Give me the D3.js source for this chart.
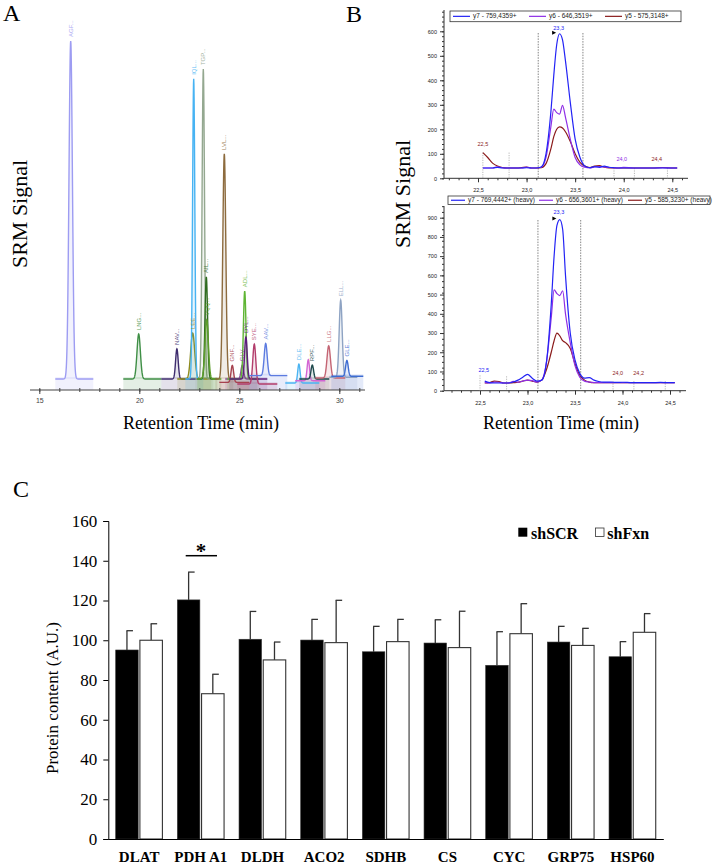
<!DOCTYPE html>
<html><head><meta charset="utf-8">
<script src="https://cdn.jsdelivr.net/npm/d3@7"></script>
<style>body{margin:0;background:#fff}</style>
</head><body><svg id="c" width="715" height="865"></svg>
<script>
// ---------- Panel A data (SRM chromatogram peaks) ----------
const peakNames  = ["AGF","LNG","NAV","LEE","IQL","TGP","AIL","VQQ","LVL","GNF","GLV","ADL","DYL","SYE","AAV","DLE","","RPF","LLG","ELL","GLE"];
const peakRT     = [16.57,19.97,21.88,22.67,22.72,23.20,23.35,23.37,24.25,24.65,25.15,25.27,25.33,25.75,26.32,27.98,28.45,28.65,29.47,30.07,30.38];
const peakHeight = [100,13.3,8.9,13.6,88.8,91.7,30.2,17.5,66.6,5,4.1,26,12.4,11.8,9.5,5.6,6.2,4.1,9.5,22.8,4.7];
const peakSigma  = [0.085,0.085,0.065,0.1,0.055,0.06,0.065,0.085,0.075,0.065,0.065,0.065,0.065,0.075,0.075,0.06,0.06,0.065,0.085,0.075,0.065];
const peakStart  = [15.8,19.2,21.1,21.9,22.3,22.8,22.9,22.9,23.8,24.0,24.3,24.4,24.5,24.9,25.5,27.3,27.8,28.0,28.8,29.5,29.6];
const peakEnd    = [17.7,21.1,22.9,23.6,23.2,23.7,23.9,24.1,24.7,25.5,25.9,26.0,26.4,26.9,27.4,29.0,29.3,29.5,30.3,30.9,31.2];
const peakBase   = [0,0,0,0,0,0,0,0,0,-1,0,0,0,-1.5,1,-1.2,-0.5,0,0.3,0.5,0.8];
const peakColor  = ["#9d9cf2","#3f8f46","#3e2c6e","#8e8a1c","#47b3f3","#94a890","#2e6b1f","#5e9e2c","#8d6b3e","#a6424f","#8a4c98","#5fb534","#5c1d7c","#b33d6c","#5c7be0","#4bb4f2","#d365d3","#1e4a4c","#c46574","#8ea3c3","#3d6cd2"];
const aTickLabels = [15,20,25,30];

// ---------- Panel B data (transitions) ----------
const bRT = [22.55,22.60,22.65,22.70,22.75,22.80,22.85,22.90,22.95,23.00,23.05,23.10,23.15,23.20,23.25,23.28,23.31,23.34,23.37,23.40,23.45,23.50,23.55,23.60,23.65,23.70,23.75,23.80,23.85,23.90,23.95,24.00,24.10,24.20,24.30,24.40,24.50,24.55];
const bTopY7 = [42,42,42,45,42,42,42,42,42,43,42,42,46,100,270,420,545,590,565,480,310,160,85,50,43,48,45,50,45,43,42,42,42,42,42,42,42,42];
const bTopY6 = [42,42,42,47,43,42,42,42,42,46,42,42,45,85,210,282,268,262,298,250,160,85,55,45,42,46,48,47,44,43,42,45,42,42,42,43,42,42];
const bTopY5 = [105,85,62,50,44,42,42,42,44,46,42,42,43,60,120,170,200,210,205,190,150,100,65,50,44,50,52,45,42,42,42,42,42,42,42,44,42,42];
const bBotY7 = [50,42,40,40,40,40,45,55,70,85,65,50,55,150,450,700,860,890,840,600,300,160,90,65,68,55,48,45,45,44,43,44,42,42,42,43,42,42];
const bBotY6 = [42,40,45,44,40,40,48,45,50,55,52,45,55,150,380,525,505,495,520,400,250,130,70,50,45,42,42,42,42,42,42,42,42,42,42,42,42,42];
const bBotY5 = [40,42,50,48,40,40,42,44,50,55,50,45,55,110,200,260,300,285,260,250,220,140,80,55,45,42,42,42,42,42,42,42,42,42,42,42,42,42];
const bTopLegend = ["y7 - 759,4359+","y6 - 646,3519+","y5 - 575,3148+"];
const bBotLegend = ["y7 - 769,4442+ (heavy)","y6 - 656,3601+ (heavy)","y5 - 585,3230+ (heavy)"];
const bColors = ["#2323f5","#8f2fe6","#8b1c1c"];
const bTopBounds = [23.12,23.58];
const bBotBounds = [23.11,23.56];
const bTopMarks = [22.55,22.82,23.90,24.11,24.45];
const bTopMarkH = [105,105,42,42,42];
const bBotMarks = [22.50,22.78,23.90,24.12,24.45];
const bBotMarkH = [80,75,50,50,50];
const bTopNotes = [["23,3",23.33,0,607],["22,5",22.55,2,130],["24,0",23.98,1,70],["24,4",24.34,2,70]];
const bBotNotes = [["23,3",23.33,0,918],["22,5",22.54,0,95],["24,0",23.95,2,82],["24,2",24.17,2,82]];

// ---------- Panel C data ----------
const cCats = ["DLAT","PDH A1","DLDH","ACO2","SDHB","CS","CYC","GRP75","HSP60"];
const cSeries = ["shSCR","shFxn"];
const shSCR = [95.1,120.3,100.5,100.1,94.2,98.6,87.4,99.1,91.7];
const shSCRerr = [9.7,14.0,14.0,10.4,12.8,11.7,16.9,7.9,7.6];
const shFxn = [100,73.1,90.1,98.8,99.3,96.3,103.3,97.4,104];
const shFxnErr = [8.3,9.8,9.0,21.3,11.2,18.3,15.1,8.6,9.4];
const cTicks = [0,20,40,60,80,100,120,140,160];

// ---------- drawing ----------
const svg = d3.select("#c");
svg.append("rect").attr("width",715).attr("height",865).attr("fill","#fff");
const serif = "'Liberation Serif','Times New Roman',serif";
const sans = "'Liberation Sans','Arial',sans-serif";
const narrow = "'Liberation Sans Narrow','Arial Narrow','Liberation Sans',sans-serif";

function label(x,y,t,size,opts={}){
  const e = svg.append("text").attr("x",x).attr("y",y).attr("font-family",opts.family||serif)
    .attr("font-size",size).attr("fill",opts.fill||"#000").text(t);
  if(opts.weight) e.attr("font-weight",opts.weight);
  if(opts.anchor) e.attr("text-anchor",opts.anchor);
  if(opts.rotate) e.attr("transform",`rotate(-90,${x},${y})`);
  return e;
}
label(3,21,"A",24);
label(346,22,"B",24);
label(13,497,"C",24);

// ===== Panel A =====
const xA = d3.scaleLinear().domain([15,30]).range([39.3,339.3]);
const yA = d3.scaleLinear().domain([0,100]).range([379,41]);
const gA = svg.append("g");
peakRT.forEach((rt,i)=>{
  gA.append("rect").attr("x",xA(peakStart[i])).attr("width",xA(peakEnd[i])-xA(peakStart[i]))
    .attr("y",yA(peakBase[i])-2).attr("height",390-yA(peakBase[i])+2)
    .attr("fill",peakColor[i]).attr("opacity",0.14);
});
peakRT.forEach((rt,i)=>{
  const s = peakSigma[i];
  const pts = d3.range(peakStart[i], peakEnd[i]+1e-9, 0.01)
    .map(t=>[t, peakBase[i] + peakHeight[i]*Math.exp(-((t-rt)**2)/(2*s*s))]);
  gA.append("path").datum(pts)
    .attr("d", d3.area().x(d=>xA(d[0])).y0(yA(peakBase[i])).y1(d=>yA(d[1])))
    .attr("fill",peakColor[i]).attr("opacity",0.13);
  gA.append("path").datum(pts)
    .attr("d", d3.line().x(d=>xA(d[0])).y(d=>yA(d[1])))
    .attr("fill","none").attr("stroke",peakColor[i]).attr("stroke-width",1.4);
});
peakRT.forEach((rt,i)=>{
  if(!peakNames[i]) return;
  const x = xA(rt)+2.2, y = yA(peakBase[i]+peakHeight[i])-4;
  gA.append("text").attr("x",x).attr("y",y).attr("transform",`rotate(-90,${x},${y})`)
    .attr("font-family",sans).attr("font-size",6).attr("fill",peakColor[i]).attr("opacity",0.85)
    .text(peakNames[i]+"...");
});
// axis A
svg.append("line").attr("x1",30).attr("x2",365).attr("y1",390).attr("y2",390).attr("stroke","#444").attr("stroke-width",1);
const axA = svg.append("g").attr("transform","translate(0,388)")
  .call(d3.axisBottom(xA).tickValues(d3.range(15,32,1)).tickSize(4).tickFormat(""));
axA.select(".domain").remove(); axA.selectAll("line").attr("stroke","#444");
const axA2 = svg.append("g").attr("transform","translate(0,389)")
  .call(d3.axisBottom(xA).tickValues(aTickLabels).tickSize(5).tickPadding(4));
axA2.select(".domain").remove(); axA2.selectAll("line").attr("stroke","#444");
axA2.selectAll("text").attr("font-family",sans).attr("font-size",7).attr("fill","#444");
label(201,429,"Retention Time (min)",18,{anchor:"middle"});
label(27,214,"SRM Signal",22,{anchor:"middle",rotate:true});

// ===== Panel B =====
function drawB(cfg){
  const x = d3.scaleLinear().domain([22.5,24.5]).range(cfg.xr);
  const y = d3.scaleLinear().domain([0,cfg.ymax]).range([cfg.y0, cfg.yTop]);
  const g = svg.append("g");
  g.append("line").attr("x1",444).attr("x2",444).attr("y1",cfg.axTop).attr("y2",cfg.y0).attr("stroke","#333");
  g.append("line").attr("x1",444).attr("x2",cfg.axRight).attr("y1",cfg.y0).attr("y2",cfg.y0).attr("stroke","#333");
  const yMinor = g.append("g").attr("transform","translate(444,0)")
    .call(d3.axisLeft(y).tickValues(d3.range(0,y.invert(cfg.axTop),cfg.ymax/30)).tickSize(2).tickFormat(""));
  yMinor.select(".domain").remove();
  const yMajor = g.append("g").attr("transform","translate(444,0)")
    .call(d3.axisLeft(y).tickValues(d3.range(0,cfg.ymax+1,100)).tickSize(4).tickPadding(3).tickFormat(d3.format("d")));
  yMajor.select(".domain").remove();
  yMajor.selectAll("text").attr("font-family",narrow).attr("font-size",5.5).attr("fill","#222");
  const xMinor = g.append("g").attr("transform",`translate(0,${cfg.y0})`)
    .call(d3.axisBottom(x).tickValues(d3.range(22.2,24.65,0.1)).tickSize(2).tickFormat(""));
  xMinor.select(".domain").remove();
  const xMajor = g.append("g").attr("transform",`translate(0,${cfg.y0})`)
    .call(d3.axisBottom(x).tickValues([22.5,23,23.5,24,24.5]).tickSize(4).tickPadding(6)
      .tickFormat(d=>d.toFixed(1).replace(".",",")));
  xMajor.select(".domain").remove();
  xMajor.selectAll("text").attr("font-family",narrow).attr("font-size",5.5).attr("fill","#222");
  g.selectAll(".tick line").attr("stroke","#333");
  cfg.bounds.forEach(b=>{
    g.append("line").attr("x1",x(b)).attr("x2",x(b)).attr("y1",cfg.boundTop).attr("y2",cfg.y0)
      .attr("stroke","#666").attr("stroke-width",0.8).attr("stroke-dasharray","1.5,1.2");
  });
  cfg.marks.forEach((m,i)=>{
    g.append("line").attr("x1",x(m)).attr("x2",x(m)).attr("y1",y(cfg.markH[i])).attr("y2",cfg.y0)
      .attr("stroke","#999").attr("stroke-width",0.7).attr("stroke-dasharray","1.2,1.2");
  });
  [2,1,0].forEach(k=>{
    g.append("path").datum(bRT.map((t,j)=>[t,cfg.series[k][j]]))
      .attr("d",d3.line().x(d=>x(d[0])).y(d=>y(d[1])).curve(d3.curveMonotoneX))
      .attr("fill","none").attr("stroke",bColors[k]).attr("stroke-width",1.2);
  });
  cfg.notes.forEach(n=>{
    g.append("text").attr("x",x(n[1])).attr("y",y(n[3])).attr("text-anchor","middle")
      .attr("font-family",narrow).attr("font-size",5.5).attr("fill",bColors[n[2]]).text(n[0]);
  });
  const ax = x(23.33)-4, ay = y(cfg.apex)-1;
  g.append("path").attr("d",`M${ax-2.5},${ay-2}L${ax+1.5},${ay}L${ax-2.5},${ay+2}Z`).attr("fill","#000");
  g.append("rect").attr("x",cfg.leg.x).attr("y",cfg.leg.y).attr("width",cfg.leg.w).attr("height",cfg.leg.h)
    .attr("fill","#fff").attr("stroke","#333").attr("stroke-width",0.8);
  cfg.legend.forEach((t,k)=>{
    const lx = cfg.leg.items[k];
    const cy = cfg.leg.y + cfg.leg.h/2;
    g.append("line").attr("x1",lx).attr("x2",lx+cfg.leg.lineW).attr("y1",cy).attr("y2",cy)
      .attr("stroke",bColors[k]).attr("stroke-width",1.2);
    g.append("text").attr("x",lx+cfg.leg.lineW+3).attr("y",cy+2).attr("font-family",narrow)
      .attr("font-size",6.5).attr("fill","#222").text(t);
  });
}
drawB({xr:[478,672.3], ymax:600, y0:178.3, yTop:31.3, axTop:10, axRight:688,
  bounds:bTopBounds, boundTop:33, marks:bTopMarks, markH:bTopMarkH,
  series:[bTopY7,bTopY6,bTopY5], notes:bTopNotes, apex:590, legend:bTopLegend,
  leg:{x:450,y:11,w:231,h:10.7,lineW:17,items:[453,529,605]}});
drawB({xr:[480,670], ymax:900, y0:390.7, yTop:217.7, axTop:206, axRight:686,
  bounds:bBotBounds, boundTop:220, marks:bBotMarks, markH:bBotMarkH,
  series:[bBotY7,bBotY6,bBotY5], notes:bBotNotes, apex:890, legend:bBotLegend,
  leg:{x:448,y:196,w:262,h:8.5,lineW:14,items:[451,539,628]}});
label(561,429,"Retention Time (min)",18,{anchor:"middle"});
label(410,194,"SRM Signal",22,{anchor:"middle",rotate:true});

// ===== Panel C =====
const xC = d3.scaleBand().domain(cCats).range([108.3,663.3]);
const xSub = d3.scaleBand().domain(cSeries).range([7.4,54.1]).paddingInner(0.07);
const yC = d3.scaleLinear().domain([0,160]).range([839,521]);
const gC = svg.append("g");
const cVals = [shSCR, shFxn], cErrs = [shSCRerr, shFxnErr];
cSeries.forEach((s,k)=>{
  cCats.forEach((c,i)=>{
    const x0 = xC(c)+xSub(s), w = xSub.bandwidth(), v = cVals[k][i], e = cErrs[k][i];
    const cx = x0 + w/2;
    gC.append("line").attr("x1",cx).attr("x2",cx).attr("y1",yC(v)).attr("y2",yC(v+e)).attr("stroke","#333").attr("stroke-width",1.3);
    gC.append("line").attr("x1",cx-0.5).attr("x2",cx+6).attr("y1",yC(v+e)).attr("y2",yC(v+e)).attr("stroke","#333").attr("stroke-width",1.3);
    gC.append("rect").attr("x",x0).attr("y",yC(v)).attr("width",w).attr("height",yC(0)-yC(v))
      .attr("fill",k===0?"#000":"#fff").attr("stroke","#333").attr("stroke-width",k===0?0.6:1.1);
  });
});
const axCY = svg.append("g").attr("transform","translate(108.3,0)")
  .call(d3.axisLeft(yC).tickValues(cTicks).tickSize(5).tickPadding(6));
axCY.selectAll("text").attr("font-family",serif).attr("font-size",17).attr("fill","#000");
axCY.selectAll("line,path").attr("stroke","#000");
const axCX = svg.append("g").attr("transform","translate(0,839)")
  .call(d3.axisBottom(xC).tickSize(0).tickPadding(12));
axCX.selectAll("text").attr("font-family",serif).attr("font-size",15).attr("font-weight","bold").attr("fill","#000");
axCX.select(".domain").attr("stroke","#000");
label(58,698,"Protein content (A.U.)",17,{anchor:"middle",rotate:true});
svg.append("line").attr("x1",185.7).attr("x2",217).attr("y1",555.7).attr("y2",555.7).attr("stroke","#000").attr("stroke-width",1.5);
label(201,558,"*",21,{anchor:"middle",weight:"bold"});
svg.append("rect").attr("x",518.3).attr("y",527.7).attr("width",9).attr("height",9).attr("fill","#000");
label(531,539,"shSCR",16,{weight:"bold"});
svg.append("rect").attr("x",595.5).attr("y",528).attr("width",8.5).attr("height",8.5).attr("fill","#fff").attr("stroke","#333").attr("stroke-width",0.8);
label(607.3,539,"shFxn",16,{weight:"bold"});
</script>
</body></html>
